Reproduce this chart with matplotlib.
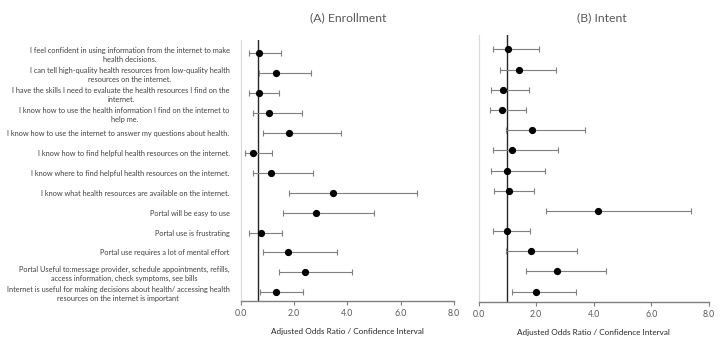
import matplotlib
matplotlib.use("Agg")
import matplotlib.pyplot as plt
import numpy as np

plt.rcParams['font.family'] = ['Lato', 'DejaVu Sans']

labels = [
    "I feel confident in using information from the internet to make\nhealth decisions.",
    "I can tell high-quality health resources from low-quality health\nresources on the internet.",
    "I have the skills I need to evaluate the health resources I find on the\ninternet.",
    "I know how to use the health information I find on the internet to\nhelp me.",
    "I know how to use the internet to answer my questions about health.",
    "I know how to find helpful health resources on the internet.",
    "I know where to find helpful health resources on the internet.",
    "I know what health resources are available on the internet.",
    "Portal will be easy to use",
    "Portal use is frustrating",
    "Portal use requires a lot of mental effort",
    "Portal Useful to:message provider, schedule appointments, refills,\naccess information, check symptoms, see bills",
    "Internet is useful for making decisions about health/ accessing health\nresources on the internet is important",
]

enroll_or = [0.70, 1.32, 0.70, 1.07, 1.80, 0.47, 1.15, 3.45, 2.82, 0.75, 1.77, 2.42, 1.32]
enroll_lo = [0.32, 0.67, 0.32, 0.47, 0.85, 0.17, 0.47, 1.80, 1.57, 0.32, 0.85, 1.42, 0.72]
enroll_hi = [1.50, 2.62, 1.43, 2.31, 3.77, 1.19, 2.72, 6.63, 5.00, 1.56, 3.62, 4.16, 2.33]

intent_or = [1.03, 1.40, 0.86, 0.82, 1.87, 1.17, 0.98, 1.05, 4.15, 0.98, 1.83, 2.72, 2.00]
intent_lo = [0.52, 0.73, 0.45, 0.41, 0.95, 0.49, 0.43, 0.55, 2.34, 0.52, 0.95, 1.66, 1.16]
intent_hi = [2.09, 2.68, 1.75, 1.64, 3.71, 2.77, 2.30, 1.94, 7.39, 1.80, 3.43, 4.44, 3.39]

titles = ["(A) Enrollment", "(B) Intent"]
ref_lines = [0.65, 1.0]
xticks = [0.0, 2.0, 4.0, 6.0, 8.0]
xlabel = "Adjusted Odds Ratio / Confidence Interval"

fig = plt.figure(figsize=(7.25, 3.49), dpi=100)
axA = fig.add_axes([0.332, 0.1375, 0.294, 0.748])
axB = fig.add_axes([0.660, 0.1355, 0.318, 0.764])

panels = [
    (axA, enroll_or, enroll_lo, enroll_hi, (13.44, 0.33)),
    (axB, intent_or, intent_lo, intent_hi, (13.5, 0.29)),
]
title_x = [348 / 725, 602 / 725]
ypos = np.arange(1, len(labels) + 1)
for i, (ax, orv, lo, hi, ylim) in enumerate(panels):
    orv = np.array(orv); lo = np.array(lo); hi = np.array(hi)
    ax.axvline(ref_lines[i], color='#262626', lw=1.0, zorder=1)
    ax.errorbar(orv, ypos, xerr=[orv - lo, hi - orv], fmt='o', color='black',
                ecolor='#7f7f7f', elinewidth=0.8, capsize=2, capthick=0.8,
                markersize=4.2, zorder=3)
    ax.set_xlim(0, 8)
    ax.set_ylim(*ylim)
    ax.set_xticks(xticks)
    ax.set_xticklabels([f"{t:.1f}" for t in xticks], fontsize=6.3, color='#595959')
    ax.tick_params(axis='x', length=3, width=0.8, color='#7f7f7f', pad=3)
    ax.set_xlabel(xlabel, fontsize=5.9, color='#262626', labelpad=7)
    fig.text(title_x[i], 1 - 18 / 349, titles[i], fontsize=8.8, color='#595959',
             ha='center', va='center')
    for s in ['top', 'right']:
        ax.spines[s].set_visible(False)
    ax.spines['bottom'].set_color('#7f7f7f')
    ax.spines['bottom'].set_linewidth(1.0)
    ax.spines['left'].set_color('#d9d9d9')
    ax.spines['left'].set_linewidth(0.8)
    ax.set_yticks(ypos)
    if i == 0:
        ax.set_yticklabels(labels, fontsize=5.3, color='#404040')
        for t in ax.get_yticklabels():
            t.set_multialignment('center')
            t.set_linespacing(1.4)
        ax.tick_params(axis='y', length=0, pad=8)
    else:
        ax.set_yticklabels([])
        ax.tick_params(axis='y', length=0)

fig.savefig("out.png", dpi=100)
